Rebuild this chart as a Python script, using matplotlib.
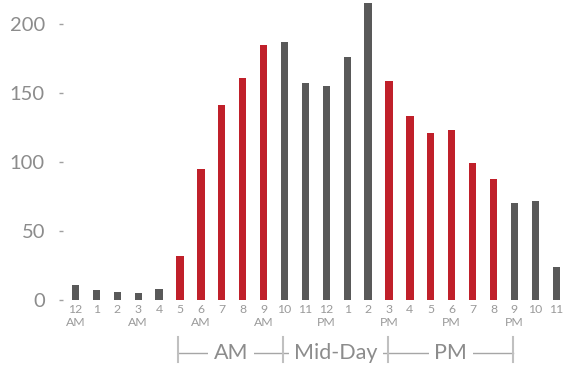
import matplotlib
matplotlib.use("Agg")
import matplotlib.pyplot as plt

plt.rcParams['font.family'] = ['Lato', 'DejaVu Sans']

hours = ["12\nAM", "1", "2", "3\nAM", "4", "5", "6\nAM", "7", "8", "9\nAM", "10", "11",
         "12\nPM", "1", "2", "3\nPM", "4", "5", "6\nPM", "7", "8", "9\nPM", "10", "11"]
values = [11, 7, 6, 5, 8, 32, 95, 141, 161, 185, 187, 157,
          155, 176, 215, 159, 133, 121, 123, 99, 88, 70, 72, 24]
highlight = [False]*5 + [True]*5 + [False]*5 + [True]*6 + [False]*3
groups = ["AM", "Mid-Day", "PM"]
group_edges = [4.92, 9.95, 14.97, 20.93]
yticks = [0, 50, 100, 150, 200]

RED = "#C0202A"
GRAY = "#595959"

W, H = 563, 366
fig = plt.figure(figsize=(W/100, H/100), dpi=100)
x0, x1 = -0.6, 23.25
px_per = 20.9
left = 75.5 + x0*px_per
right = 75.5 + x1*px_per
ax = fig.add_axes([left/W, 66/H, (right-left)/W, 300/H])

colors = [RED if h else GRAY for h in highlight]
ax.bar(range(len(values)), values, width=0.35, color=colors)
ax.set_xlim(x0, x1)
ax.set_ylim(0, 300/1.38)

for s in ax.spines.values():
    s.set_visible(False)

ax.set_yticks(yticks)
ax.set_yticklabels([str(v) for v in yticks], fontsize=14.5, color="#8c8c8c")
ax.tick_params(axis='y', length=3, width=1, color="#a0a0a0", pad=10)
ax.set_xticks(range(len(values)))
ax.set_xticklabels(hours, fontsize=8.8, color="#9a9a9a", linespacing=1.2)
ax.tick_params(axis='x', length=0, pad=3)

# group bracket
trans = ax.get_xaxis_transform()
yline = -53/300
ax.plot([group_edges[0], group_edges[-1]], [yline, yline], transform=trans,
        color="#a6a6a6", lw=1, clip_on=False, zorder=1)
for e in group_edges:
    ax.plot([e, e], [-37/300, -62/300], transform=trans, color="#c0c0c0",
            lw=1.5, clip_on=False, zorder=1)
for g, a, b in zip(groups, group_edges[:-1], group_edges[1:]):
    ax.text((a+b)/2, yline, g, transform=trans, ha='center', va='center',
            fontsize=15.5, color="#8c8c8c", clip_on=False, zorder=3,
            bbox=dict(facecolor='white', edgecolor='none', pad=4))

fig.savefig("out.png", dpi=100)
